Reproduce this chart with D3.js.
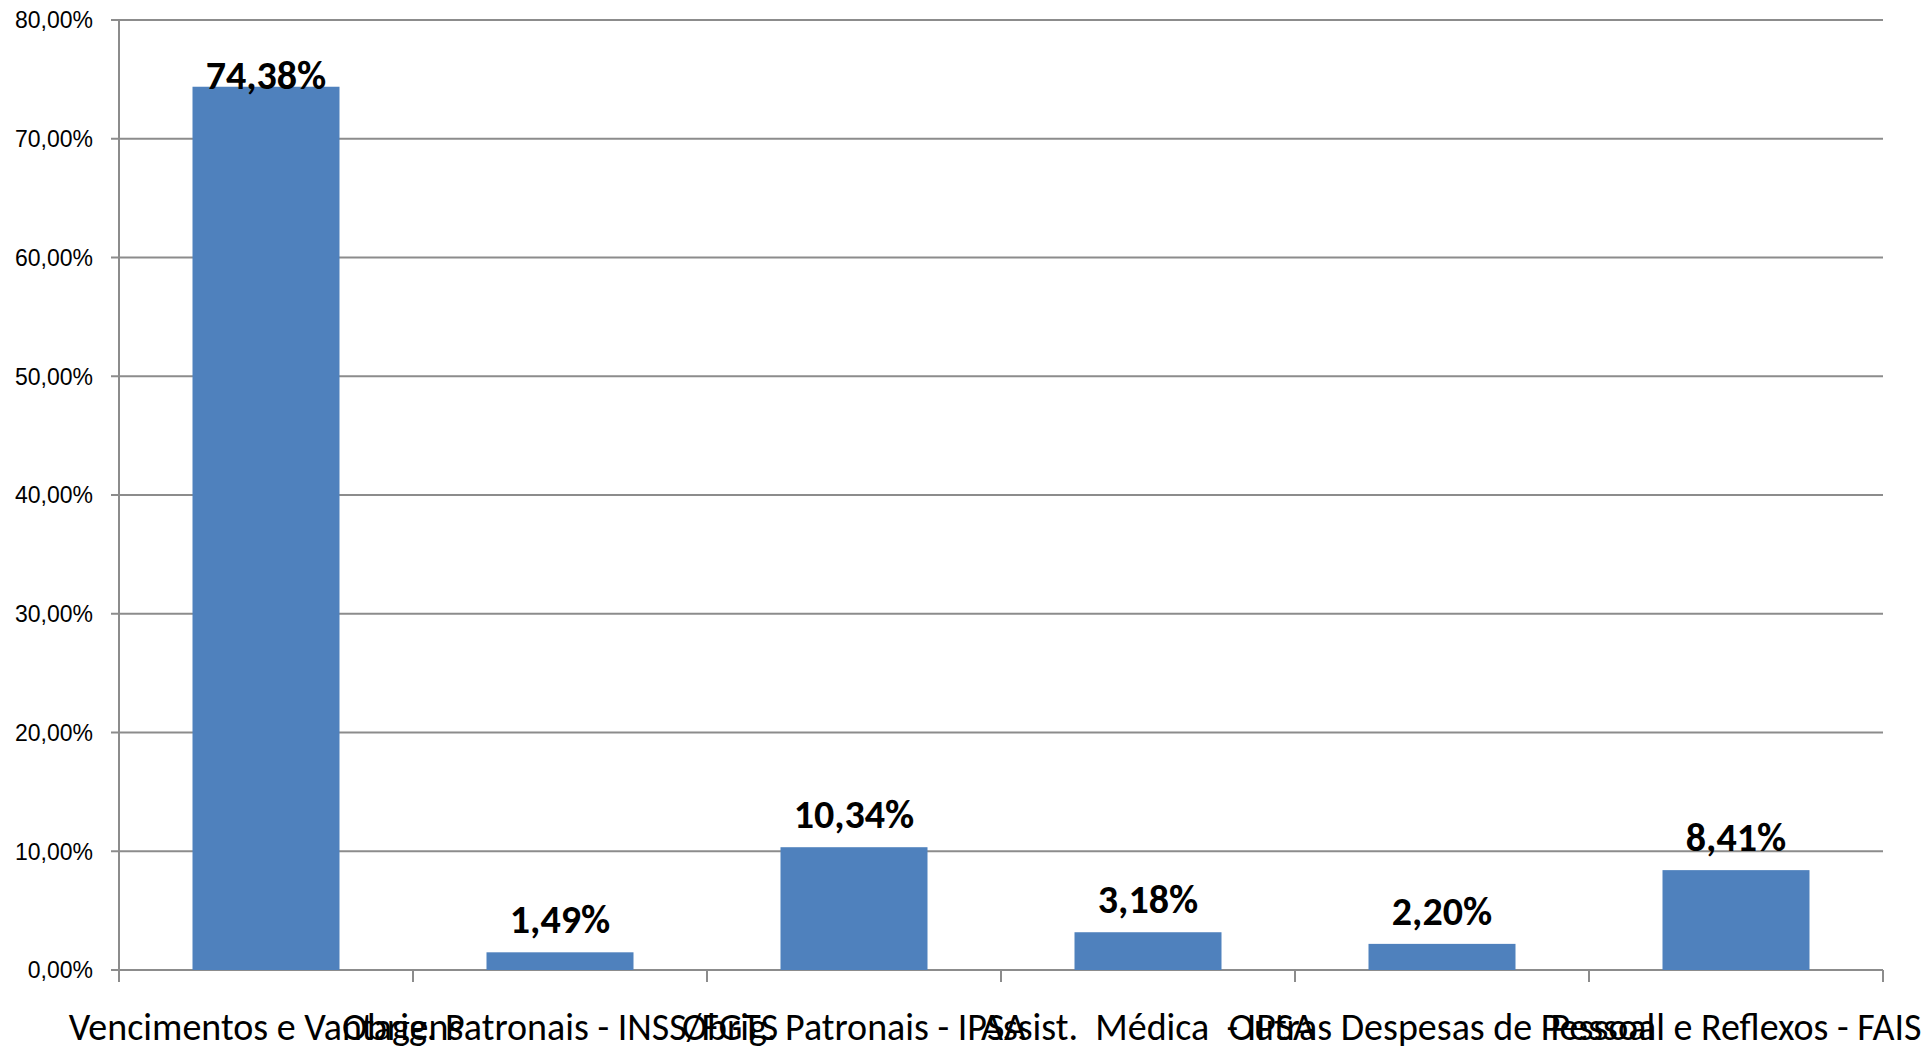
<!DOCTYPE html>
<html>
<head>
<meta charset="utf-8">
<script src="https://cdn.jsdelivr.net/npm/d3@7"></script>
<style>
  body { margin: 0; background: #fff; }
  svg { display: block; }
</style>
</head>
<body>
<svg width="1932" height="1049"></svg>
<script>
var categories = [
    "Vencimentos e Vantagens",
    "Obrig. Patronais - INSS/FGTS",
    "Obrig. Patronais - IPSA",
    "Assist.  Médica  - IPSA",
    "Outras Despesas de Pessoal",
    "Pessoal e Reflexos - FAIS"
];
var values = [74.38, 1.49, 10.34, 3.18, 2.20, 8.41];
var yTicks = [0, 10, 20, 30, 40, 50, 60, 70, 80];

var svg = d3.select("svg");
var plotLeft = 119, plotRight = 1883, plotTop = 20, plotBottom = 970;
var gridColor = "#8c8c8c";
var barColor = "#4f81bd";

var x = d3.scaleBand()
    .domain(categories)
    .range([plotLeft, plotRight])
    .paddingInner(0.5)
    .paddingOuter(0.25);

var y = d3.scaleLinear()
    .domain([0, 80])
    .range([plotBottom, plotTop]);

function pct(v) {
    return v.toFixed(2).replace(".", ",") + "%";
}

// gridlines
svg.append("g")
    .selectAll("line")
    .data(yTicks)
    .enter().append("line")
    .attr("x1", plotLeft - 8)
    .attr("x2", plotRight)
    .attr("y1", function(d) { return y(d); })
    .attr("y2", function(d) { return y(d); })
    .attr("stroke", gridColor)
    .attr("stroke-width", 2);

// y labels
svg.append("g")
    .selectAll("text")
    .data(yTicks)
    .enter().append("text")
    .attr("x", plotLeft - 26)
    .attr("y", function(d) { return y(d); })
    .attr("dy", "0.36em")
    .attr("text-anchor", "end")
    .style("font-family", "'Liberation Sans', Arial, sans-serif")
    .style("font-size", "23px")
    .attr("fill", "#000")
    .text(pct);

// y axis line
svg.append("line")
    .attr("x1", plotLeft).attr("x2", plotLeft)
    .attr("y1", plotTop).attr("y2", plotBottom + 12)
    .attr("stroke", gridColor)
    .attr("stroke-width", 2);

// bottom ticks at category boundaries
var step = x.step();
var bounds = categories.map(function(c) { return x(c) - (step - x.bandwidth()) / 2; });
bounds.push(plotRight);
svg.append("g")
    .selectAll("line")
    .data(bounds.slice(1))
    .enter().append("line")
    .attr("x1", function(d) { return d; })
    .attr("x2", function(d) { return d; })
    .attr("y1", plotBottom)
    .attr("y2", plotBottom + 12)
    .attr("stroke", gridColor)
    .attr("stroke-width", 2);

// bars
svg.append("g")
    .selectAll("rect")
    .data(values)
    .enter().append("rect")
    .attr("x", function(d, i) { return x(categories[i]); })
    .attr("y", function(d) { return y(d); })
    .attr("width", x.bandwidth())
    .attr("height", function(d) { return plotBottom - y(d); })
    .attr("fill", barColor);

// value labels (top one is pushed down inside the plot)
svg.append("g")
    .selectAll("text")
    .data(values)
    .enter().append("text")
    .attr("x", function(d, i) { return x(categories[i]) + x.bandwidth() / 2; })
    .attr("y", function(d) { return Math.max(y(d) - 19, 89); })
    .attr("text-anchor", "middle")
    .style("font-family", "Carlito, Calibri, 'Open Sans', sans-serif")
    .style("font-weight", "bold")
    .style("font-size", "40px")
    .attr("fill", "#000")
    .text(pct);

// category labels
svg.append("g")
    .selectAll("text")
    .data(categories)
    .enter().append("text")
    .attr("x", function(d) { return x(d) + x.bandwidth() / 2; })
    .attr("y", 1040)
    .attr("text-anchor", "middle")
    .style("font-family", "Carlito, Calibri, 'Open Sans', sans-serif")
    .style("font-size", "38px")
    .style("white-space", "pre")
    .attr("fill", "#000")
    .text(function(d) { return d; });
</script>
</body>
</html>
